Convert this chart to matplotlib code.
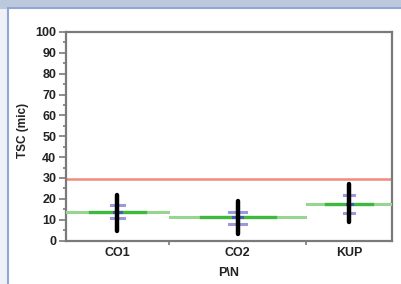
import matplotlib
matplotlib.use("Agg")
import matplotlib.pyplot as plt
from matplotlib.patches import Rectangle

# Data
groups = ["CO1", "CO2", "KUP"]
counts = [12, 16, 10]          # group widths proportional to sample size
means = [13.6, 11.1, 17.3]
sd_upper = [16.8, 13.9, 21.6]
sd_lower = [11.0, 8.0, 13.1]
mins = [4.5, 3.2, 8.8]
maxs = [21.6, 18.9, 26.9]
ref_value = 29.5
yticks = [0, 10, 20, 30, 40, 50, 60, 70, 80, 90, 100]

plt.rcParams['font.family'] = ['Liberation Sans', 'DejaVu Sans']

fig = plt.figure(figsize=(4.01, 2.84), dpi=100, facecolor="#dfe4ec")
# background panel
fig.patches.append(Rectangle((0, 0), 1, 1 - 9/284, transform=fig.transFigure,
                             facecolor="#eef1f6", edgecolor="none", zorder=-3))
fig.patches.append(Rectangle((0, 1 - 9/284), 1, 9/284, transform=fig.transFigure,
                             facecolor="#bcc9dd", edgecolor="none", zorder=-3))
fig.patches.append(Rectangle((8/401, -0.01), 1, 1 - 8/284 + 0.01, transform=fig.transFigure,
                             facecolor="white", edgecolor="#90a6d4", linewidth=1.5, zorder=-2))

ax = fig.add_axes([66/401, 43.5/284, 326/401, 208.5/284])
ax.set_facecolor("white")

bounds = [0]
for c in counts:
    bounds.append(bounds[-1] + c)
centers = [(bounds[i] + bounds[i + 1]) / 2 for i in range(len(groups))]

ax.set_xlim(0, bounds[-1])
ax.set_ylim(0, 100)

ax.axhline(ref_value, color="#f28b7e", lw=1.8, zorder=2)

for i, g in enumerate(groups):
    x0, x1 = bounds[i], bounds[i + 1]
    w = x1 - x0
    c = centers[i]
    ax.plot([x0 + 0.1, x1 - 0.1], [means[i], means[i]], color="#96d690", lw=2.2, zorder=3)
    ax.plot([c - w * 0.27, c + w * 0.27], [means[i], means[i]], color="#3fb83f", lw=2.4, zorder=3)
    hw = w * 0.06
    for v in (sd_upper[i], sd_lower[i]):
        ax.plot([c - hw, c + hw], [v, v], color="#8a86d6", lw=2.2, alpha=0.85, zorder=4)
    ax.plot([c - hw * 0.5, c + hw * 0.5], [means[i], means[i]], color="#4a5ab8", lw=2.2, zorder=4)
    ax.plot([c, c], [mins[i], maxs[i]], color="black", lw=3.2, solid_capstyle="round", zorder=5)

for s in ax.spines.values():
    s.set_color("#7a7a7a")
    s.set_linewidth(1.6)

ax.set_yticks(yticks)
ax.set_yticks([v + 5 for v in yticks[:-1]], minor=True)
ax.tick_params(axis="y", which="major", length=5, width=1.2, color="#7a7a7a", pad=2,
               labelsize=9)
ax.tick_params(axis="y", which="minor", length=2.5, width=1.2, color="#7a7a7a")
for lab in ax.get_yticklabels():
    lab.set_fontweight("bold")
    lab.set_color("#222222")

ax.set_xticks(bounds[1:-1])
ax.set_xticklabels([])
ax.tick_params(axis="x", which="major", length=3, width=1.2, color="#7a7a7a")
for c, g in zip(centers, groups):
    ax.text(c, -3.0, g, ha="center", va="top", fontsize=9, fontweight="bold",
            color="#222222", transform=ax.transData, clip_on=False)

fig.text(23/401, 1 - 130/284, "TSC (mic)", rotation=90, ha="center", va="center",
         fontsize=8.5, fontweight="bold", color="#222222")
fig.text(229/401, 1 - 273/284, "P\\N", ha="center", va="center",
         fontsize=9, fontweight="bold", color="#222222")

fig.savefig("out.png", dpi=100, facecolor=fig.get_facecolor())
